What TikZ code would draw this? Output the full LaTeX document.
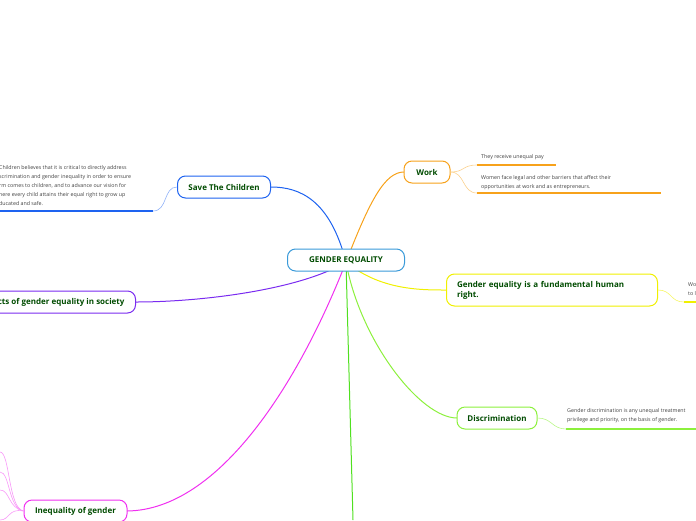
\documentclass[tikz,border=0pt]{standalone}
\usepackage{fontspec}
\setmainfont{Open Sans}
\begin{document}
\begin{tikzpicture}[x=1pt,y=-1pt,
 topic/.style={draw,rounded corners=8pt,line width=1pt,fill=white,text=green!30!black,font=\fontsize{8}{10}\selectfont\bfseries,inner sep=0pt,minimum height=22pt},
 leaf/.style={font=\fontsize{5.3}{9}\selectfont,text=black!75,align=left,anchor=north west,inner sep=0pt},
 br/.style={line width=1pt},
 ul/.style={line width=1.6pt}]
\useasboundingbox (0,0) rectangle (696,520);
\clip (0,0) rectangle (696,520);
\definecolor{colB}{HTML}{1E63F0}\definecolor{colC}{HTML}{3A9AD9}\definecolor{colO}{HTML}{F7A21B}
\definecolor{colY}{HTML}{F0F000}\definecolor{colG}{HTML}{8CF03C}\definecolor{colM}{HTML}{F030F0}\definecolor{colP}{HTML}{7A2BF0}\definecolor{colGr}{HTML}{50E020}
% connectors
\coordinate (c) at (346,262);
\draw[br,colB] (c) .. controls (330,200) and (300,187) .. (271,187);
\draw[br,colP] (c) .. controls (300,290) and (200,302) .. (136,302);
\draw[br,colO] (c) .. controls (370,200) and (385,172) .. (404,172);
\draw[br,colY] (c) .. controls (380,290) and (420,290) .. (446,290);
\draw[br,colG] (c) .. controls (360,340) and (420,418) .. (457,418);
\draw[br,colM] (c) .. controls (300,380) and (220,510) .. (127,511);
\draw[br,colGr] (c) -- (353,520);
\node[topic,draw=colC,minimum width=117pt] (ge) at (346,260) {GENDER EQUALITY};
\node[topic,draw=colB,minimum width=93pt] (stc) at (224,187) {Save The Children};
\node[topic,draw=colP,anchor=east,inner xsep=11pt] (asp) at (136,302) {Aspects of gender equality in society};
\node[topic,draw=colO,minimum width=46pt] (work) at (427,172) {Work};
\node[topic,draw=colY,minimum width=211pt,minimum height=32pt,align=left,anchor=west,text width=190pt] (fund) at (446,290) {Gender equality is a fundamental human\\right.};
\node[topic,draw=colG,minimum width=80pt] (disc) at (497,418) {Discrimination};
\node[topic,draw=colM,minimum width=103pt] (ineq) at (75.5,511) {Inequality of gender};
% Save the children leaf
\node[leaf] (l1) at (-1,165) {Children believes that it is critical to directly address\\scrimination and gender inequality in order to ensure\\rm comes to children, and to advance our vision for\\here every child attains their equal right to grow up\\ducated and safe.};
\coordinate (u1a) at (0,211);\coordinate (u1b) at (153,211);
\draw[ul,colB] (u1a) -- (u1b);
\draw[colB!50,line width=0.6pt] (u1b) .. controls (168,211) and (163,187) .. (stc.west);
% work leaves
\node[leaf] (w1) at (481,154) {They receive unequal pay};
\node[leaf] (w2) at (481,175) {Women face legal and other barriers that affect their\\opportunities at work and as entrepreneurs.};
\coordinate (w1a) at (477,165);\coordinate (w1b) at (556,165);
\coordinate (w2a) at (477,193);\coordinate (w2b) at (661,193);
\draw[ul,colO] (w1a) -- (w1b);\draw[ul,colO] (w2a) -- (w2b);
\draw[colO!50,line width=0.6pt] (work.east) .. controls (465,172) and (462,165) .. (w1a);
\draw[colO!50,line width=0.6pt] (work.east) .. controls (465,172) and (462,193) .. (w2a);
% fundamental leaf
\node[leaf] (f1) at (688,283) {Wo\\to l};
\coordinate (f1a) at (684,302);\coordinate (f1b) at (696,302);
\draw[ul,colY] (f1a) -- (f1b);
\draw[colY!60,line width=0.6pt] (fund.east) .. controls (672,290) and (670,302) .. (f1a);
% discrimination leaf
\node[leaf] (d1) at (567,408) {Gender discrimination is any unequal treatment\\privilege and priority, on the basis of gender.};
\coordinate (d1a) at (566,429);\coordinate (d1b) at (696,429);
\draw[ul,colG] (d1a) -- (d1b);
\draw[colG!60,line width=0.6pt] (disc.east) .. controls (552,418) and (552,429) .. (d1a);
% inequality leaves
\foreach \yy in {452,472,490,520} {
 \coordinate (iq\yy) at (0,\yy);
 \draw[colM!50,line width=0.6pt] (iq\yy) .. controls (10,\yy) and (8,508) .. (ineq.west);
}
\end{tikzpicture}
\end{document}
